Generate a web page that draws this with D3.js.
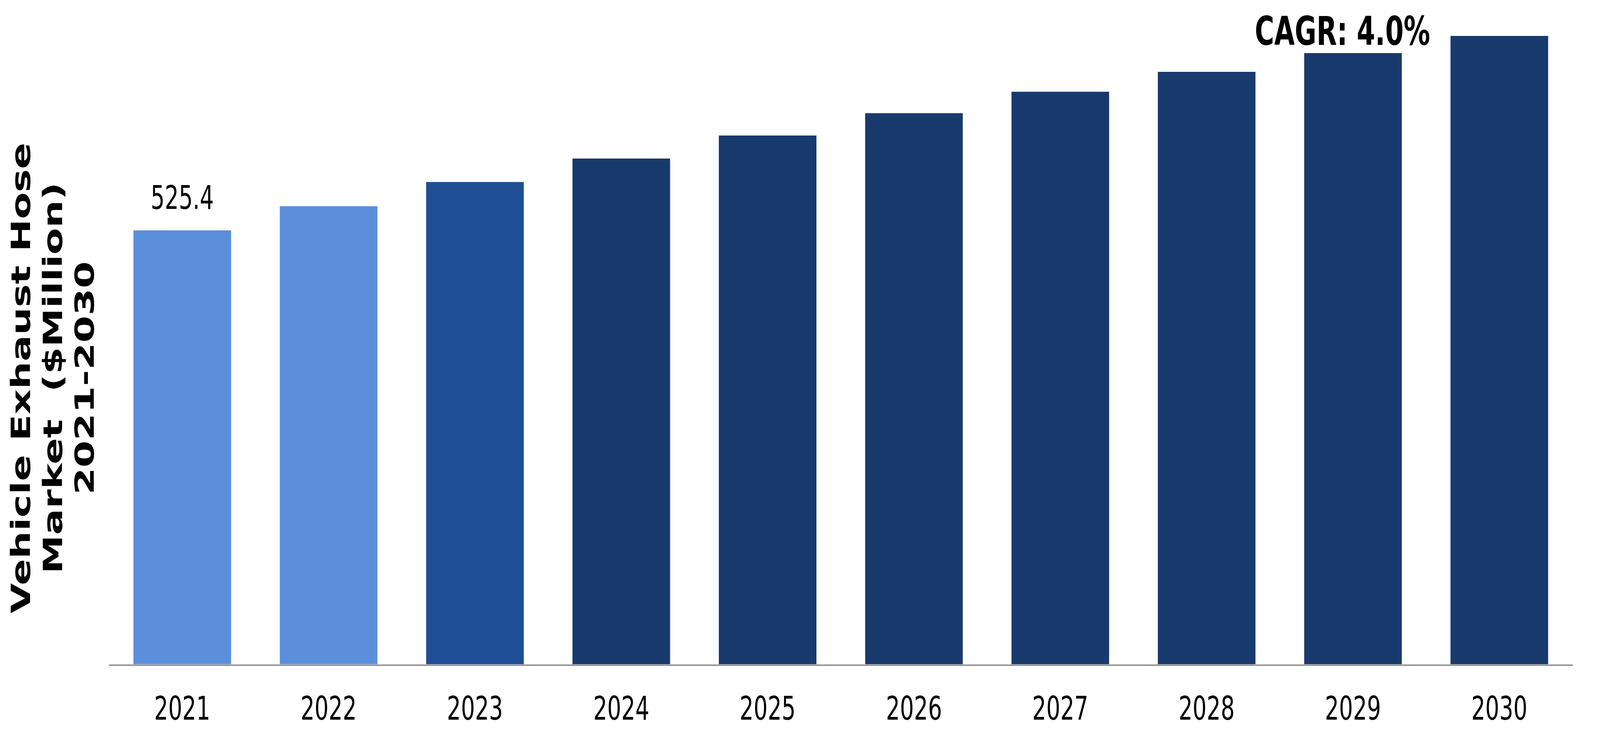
<!DOCTYPE html>
<html>
<head>
<meta charset="utf-8">
<script src="https://cdn.jsdelivr.net/npm/d3@7"></script>
<style>
  html, body { margin: 0; padding: 0; background: #fff; overflow: hidden; }
  svg { display: block; }
</style>
</head>
<body>
<div id="chart"></div>
<script>
var years = ['2021', '2022', '2023', '2024', '2025', '2026', '2027', '2028', '2029', '2030'];
var values = [525.4, 554.7, 584.0, 612.4, 640.3, 667.3, 693.3, 717.4, 740.1, 760.9];
var barColors = ['#5B8FDB', '#5B8FDB', '#1F4E94', '#183A6D', '#183A6D', '#183A6D', '#183A6D', '#183A6D', '#183A6D', '#183A6D'];
var titleLines = ['Vehicle Exhaust Hose', 'Market  ($Million)', '2021-2030'];
var cagrText = 'CAGR: 4.0%';

// drawing is done in 6098x1890 units and stretched to whatever window we get
var width = 6098, height = 1890;
var baseY = 1701;

var svg = d3.select('#chart').append('svg')
	.attr('width', window.innerWidth || width)
	.attr('height', window.innerHeight || height)
	.attr('viewBox', '0 0 ' + width + ' ' + height)
	.attr('preserveAspectRatio', 'none');

var x = d3.scaleBand()
	.domain(years)
	.range([415, 5994])
	.paddingInner(0.333)
	.paddingOuter(0.168);

var y = d3.scaleLinear()
	.domain([0, 800])
	.range([baseY, baseY - 800 * 1111 / 525.4]);

// bars
svg.append('g')
	.selectAll('rect')
	.data(values)
	.enter()
	.append('rect')
	.attr('x', function (d, i) { return x(years[i]); })
	.attr('y', function (d) { return y(d); })
	.attr('width', x.bandwidth())
	.attr('height', function (d) { return baseY - y(d); })
	.attr('fill', function (d, i) { return barColors[i]; });

// x axis
var xAxis = svg.append('g')
	.attr('transform', 'translate(0,' + (baseY + 2) + ')')
	.call(d3.axisBottom(x).tickSize(0).tickSizeOuter(0).tickPadding(80));

xAxis.select('.domain')
	.attr('stroke', '#898989')
	.attr('stroke-width', 3.7);

xAxis.selectAll('text')
	.attr('font-family', 'DejaVu Sans, Verdana, sans-serif')
	.attr('font-size', 84)
	.attr('fill', '#000');

// first value label
svg.append('text')
	.attr('x', x(years[0]) + x.bandwidth() / 2)
	.attr('y', y(values[0]) - 55)
	.attr('text-anchor', 'middle')
	.attr('font-family', 'DejaVu Sans, Verdana, sans-serif')
	.attr('font-size', 84)
	.attr('fill', '#000')
	.text(values[0].toFixed(1));

// CAGR label
svg.append('text')
	.attr('x', x(years[8]) + x.bandwidth() / 2 - 40)
	.attr('y', 115)
	.attr('text-anchor', 'middle')
	.attr('font-family', 'DejaVu Sans, Verdana, sans-serif')
	.attr('font-weight', 'bold')
	.attr('font-size', 101)
	.attr('fill', '#000')
	.text(cagrText);

// y title
var title = svg.append('text')
	.attr('transform', 'translate(114,968) rotate(-90)')
	.attr('text-anchor', 'middle')
	.attr('font-family', 'DejaVu Sans, Verdana, sans-serif')
	.attr('font-weight', 'bold')
	.attr('font-size', 100)
	.attr('fill', '#000')
	.style('white-space', 'pre');

title.selectAll('tspan')
	.data(titleLines)
	.enter()
	.append('tspan')
	.attr('x', 0)
	.attr('y', function (d, i) { return i * 122; })
	.text(function (d) { return d; });
</script>
</body>
</html>
